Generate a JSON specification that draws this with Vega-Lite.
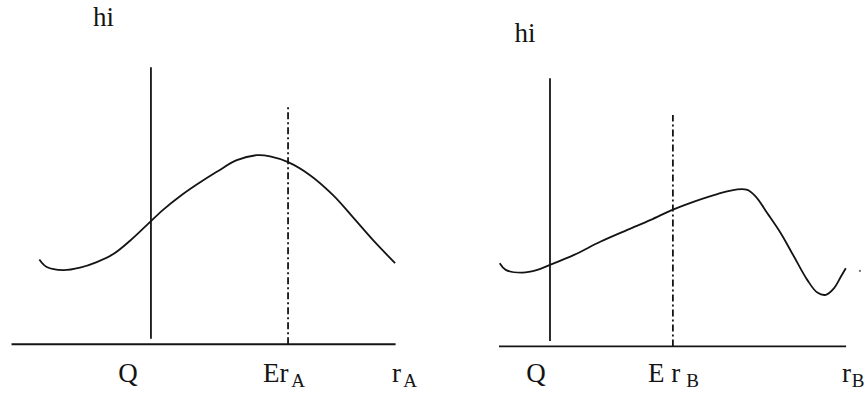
{
  "$schema": "https://vega.github.io/schema/vega-lite/v6.json",
  "padding": 0,
  "spacing": 0,
  "background": "white",
  "config": {
    "view": {"stroke": null}
  },
  "datasets": {
    "guides": [
      {"panel": "A", "line": "axis", "x": 0, "x2": 10, "y": 0, "y2": 0},
      {"panel": "A", "line": "Q", "x": 3.63, "x2": 3.63, "y": 0.2, "y2": 9.98},
      {"panel": "A", "line": "E", "x": 7.2, "x2": 7.2, "y": 0, "y2": 8.61},
      {"panel": "B", "line": "axis", "x": 1.393, "x2": 10.43, "y": 0, "y2": 0},
      {"panel": "B", "line": "Q", "x": 2.72, "x2": 2.72, "y": 0.2, "y2": 9.66},
      {"panel": "B", "line": "E", "x": 5.92, "x2": 5.92, "y": 0, "y2": 8.34}
    ],
    "curves": [
      {"panel": "A", "r": 0.724, "h": 3.05},
      {"panel": "A", "r": 0.917, "h": 2.78},
      {"panel": "A", "r": 1.349, "h": 2.67},
      {"panel": "A", "r": 1.784, "h": 2.76},
      {"panel": "A", "r": 2.219, "h": 2.96},
      {"panel": "A", "r": 2.651, "h": 3.25},
      {"panel": "A", "r": 3.086, "h": 3.73},
      {"panel": "A", "r": 3.521, "h": 4.29},
      {"panel": "A", "r": 3.953, "h": 4.85},
      {"panel": "A", "r": 4.388, "h": 5.33},
      {"panel": "A", "r": 4.823, "h": 5.75},
      {"panel": "A", "r": 5.344, "h": 6.21},
      {"panel": "A", "r": 5.865, "h": 6.63},
      {"panel": "A", "r": 6.385, "h": 6.81},
      {"panel": "A", "r": 6.732, "h": 6.77},
      {"panel": "A", "r": 7.201, "h": 6.56},
      {"panel": "A", "r": 7.773, "h": 6.09},
      {"panel": "A", "r": 8.372, "h": 5.37},
      {"panel": "A", "r": 8.893, "h": 4.57},
      {"panel": "A", "r": 9.414, "h": 3.75},
      {"panel": "A", "r": 9.987, "h": 2.92},
      {"panel": "B", "r": 1.411, "h": 3.00},
      {"panel": "B", "r": 1.568, "h": 2.76},
      {"panel": "B", "r": 2.000, "h": 2.66},
      {"panel": "B", "r": 2.391, "h": 2.76},
      {"panel": "B", "r": 2.721, "h": 2.94},
      {"panel": "B", "r": 3.346, "h": 3.30},
      {"panel": "B", "r": 4.042, "h": 3.78},
      {"panel": "B", "r": 4.734, "h": 4.20},
      {"panel": "B", "r": 5.344, "h": 4.56},
      {"panel": "B", "r": 5.906, "h": 4.92},
      {"panel": "B", "r": 6.471, "h": 5.22},
      {"panel": "B", "r": 7.078, "h": 5.49},
      {"panel": "B", "r": 7.599, "h": 5.66},
      {"panel": "B", "r": 7.859, "h": 5.64},
      {"panel": "B", "r": 8.078, "h": 5.40},
      {"panel": "B", "r": 8.380, "h": 4.80},
      {"panel": "B", "r": 8.729, "h": 4.08},
      {"panel": "B", "r": 9.076, "h": 3.23},
      {"panel": "B", "r": 9.422, "h": 2.39},
      {"panel": "B", "r": 9.682, "h": 1.94},
      {"panel": "B", "r": 9.901, "h": 1.86},
      {"panel": "B", "r": 10.117, "h": 2.10},
      {"panel": "B", "r": 10.292, "h": 2.51},
      {"panel": "B", "r": 10.422, "h": 2.82}
    ],
    "dots": [
      {"panel": "B", "r": 10.79, "h": 2.72}
    ],
    "centerLabels": [
      {"panel": "A", "t": "hi", "x": 2.396, "y": 11.46},
      {"panel": "A", "t": "Q", "x": 3.034, "y": -1.37},
      {"panel": "B", "t": "hi", "x": 2.07, "y": 10.97},
      {"panel": "B", "t": "Q", "x": 2.357, "y": -1.28}
    ],
    "leftLabels": [
      {"panel": "A", "t": "Er", "x": 6.549, "y": -1.37},
      {"panel": "A", "t": "r", "x": 9.909, "y": -1.37},
      {"panel": "B", "t": "E r", "x": 5.273, "y": -1.28},
      {"panel": "B", "t": "r", "x": 10.326, "y": -1.28}
    ],
    "subLabels": [
      {"panel": "A", "t": "A", "x": 7.28, "y": -1.55},
      {"panel": "A", "t": "A", "x": 10.2, "y": -1.55},
      {"panel": "B", "t": "B", "x": 6.27, "y": -1.46},
      {"panel": "B", "t": "B", "x": 10.58, "y": -1.46}
    ]
  },
  "hconcat": [
    {
      "width": 434,
      "height": 397,
      "layer": [
        {
          "data": {"name": "guides"},
          "transform": [{"filter": "datum.panel === 'A' && datum.line !== 'E'"}],
          "mark": {"type": "rule", "stroke": "#141414", "strokeWidth": 1.8},
          "encoding": {
            "x": {"field": "x", "type": "quantitative", "scale": {"domain": [-0.3, 11], "nice": false, "zero": false}, "axis": null},
            "x2": {"field": "x2"},
            "y": {"field": "y", "type": "quantitative", "scale": {"domain": [-1.9, 12.4], "nice": false, "zero": false}, "axis": null},
            "y2": {"field": "y2"}
          }
        },
        {
          "data": {"name": "guides"},
          "transform": [{"filter": "datum.panel === 'A' && datum.line === 'E'"}],
          "mark": {"type": "rule", "stroke": "#141414", "strokeWidth": 1.8, "strokeDash": [7, 3, 2, 3]},
          "encoding": {
            "x": {"field": "x", "type": "quantitative"},
            "x2": {"field": "x2"},
            "y": {"field": "y", "type": "quantitative"},
            "y2": {"field": "y2"}
          }
        },
        {
          "data": {"name": "curves"},
          "transform": [{"filter": "datum.panel === 'A'"}],
          "mark": {"type": "line", "stroke": "#141414", "strokeWidth": 1.8, "interpolate": "catmull-rom"},
          "encoding": {
            "x": {"field": "r", "type": "quantitative"},
            "y": {"field": "h", "type": "quantitative"}
          }
        },
        {
          "data": {"name": "centerLabels"},
          "transform": [{"filter": "datum.panel === 'A'"}],
          "mark": {"type": "text", "font": "'Times New Roman', 'Liberation Serif', serif", "color": "#141414", "fontSize": 27, "align": "center", "baseline": "alphabetic"},
          "encoding": {
            "x": {"field": "x", "type": "quantitative"},
            "y": {"field": "y", "type": "quantitative"},
            "text": {"field": "t"}
          }
        },
        {
          "data": {"name": "leftLabels"},
          "transform": [{"filter": "datum.panel === 'A'"}],
          "mark": {"type": "text", "font": "'Times New Roman', 'Liberation Serif', serif", "color": "#141414", "fontSize": 27, "align": "left", "baseline": "alphabetic"},
          "encoding": {
            "x": {"field": "x", "type": "quantitative"},
            "y": {"field": "y", "type": "quantitative"},
            "text": {"field": "t"}
          }
        },
        {
          "data": {"name": "subLabels"},
          "transform": [{"filter": "datum.panel === 'A'"}],
          "mark": {"type": "text", "font": "'Times New Roman', 'Liberation Serif', serif", "color": "#141414", "fontSize": 19, "align": "left", "baseline": "alphabetic"},
          "encoding": {
            "x": {"field": "x", "type": "quantitative"},
            "y": {"field": "y", "type": "quantitative"},
            "text": {"field": "t"}
          }
        }
      ]
    },
    {
      "width": 434,
      "height": 397,
      "layer": [
        {
          "data": {"name": "guides"},
          "transform": [{"filter": "datum.panel === 'B' && datum.line !== 'E'"}],
          "mark": {"type": "rule", "stroke": "#141414", "strokeWidth": 1.8},
          "encoding": {
            "x": {"field": "x", "type": "quantitative", "scale": {"domain": [-0.3, 11], "nice": false, "zero": false}, "axis": null},
            "x2": {"field": "x2"},
            "y": {"field": "y", "type": "quantitative", "scale": {"domain": [-1.82, 12.48], "nice": false, "zero": false}, "axis": null},
            "y2": {"field": "y2"}
          }
        },
        {
          "data": {"name": "guides"},
          "transform": [{"filter": "datum.panel === 'B' && datum.line === 'E'"}],
          "mark": {"type": "rule", "stroke": "#141414", "strokeWidth": 1.8, "strokeDash": [7, 3, 2, 3]},
          "encoding": {
            "x": {"field": "x", "type": "quantitative"},
            "x2": {"field": "x2"},
            "y": {"field": "y", "type": "quantitative"},
            "y2": {"field": "y2"}
          }
        },
        {
          "data": {"name": "curves"},
          "transform": [{"filter": "datum.panel === 'B'"}],
          "mark": {"type": "line", "stroke": "#141414", "strokeWidth": 1.8, "interpolate": "catmull-rom"},
          "encoding": {
            "x": {"field": "r", "type": "quantitative"},
            "y": {"field": "h", "type": "quantitative"}
          }
        },
        {
          "data": {"name": "dots"},
          "transform": [{"filter": "datum.panel === 'B'"}],
          "mark": {"type": "point", "filled": true, "size": 5, "color": "#333"},
          "encoding": {
            "x": {"field": "r", "type": "quantitative"},
            "y": {"field": "h", "type": "quantitative"}
          }
        },
        {
          "data": {"name": "centerLabels"},
          "transform": [{"filter": "datum.panel === 'B'"}],
          "mark": {"type": "text", "font": "'Times New Roman', 'Liberation Serif', serif", "color": "#141414", "fontSize": 27, "align": "center", "baseline": "alphabetic"},
          "encoding": {
            "x": {"field": "x", "type": "quantitative"},
            "y": {"field": "y", "type": "quantitative"},
            "text": {"field": "t"}
          }
        },
        {
          "data": {"name": "leftLabels"},
          "transform": [{"filter": "datum.panel === 'B'"}],
          "mark": {"type": "text", "font": "'Times New Roman', 'Liberation Serif', serif", "color": "#141414", "fontSize": 27, "align": "left", "baseline": "alphabetic"},
          "encoding": {
            "x": {"field": "x", "type": "quantitative"},
            "y": {"field": "y", "type": "quantitative"},
            "text": {"field": "t"}
          }
        },
        {
          "data": {"name": "subLabels"},
          "transform": [{"filter": "datum.panel === 'B'"}],
          "mark": {"type": "text", "font": "'Times New Roman', 'Liberation Serif', serif", "color": "#141414", "fontSize": 19, "align": "left", "baseline": "alphabetic"},
          "encoding": {
            "x": {"field": "x", "type": "quantitative"},
            "y": {"field": "y", "type": "quantitative"},
            "text": {"field": "t"}
          }
        }
      ]
    }
  ]
}
